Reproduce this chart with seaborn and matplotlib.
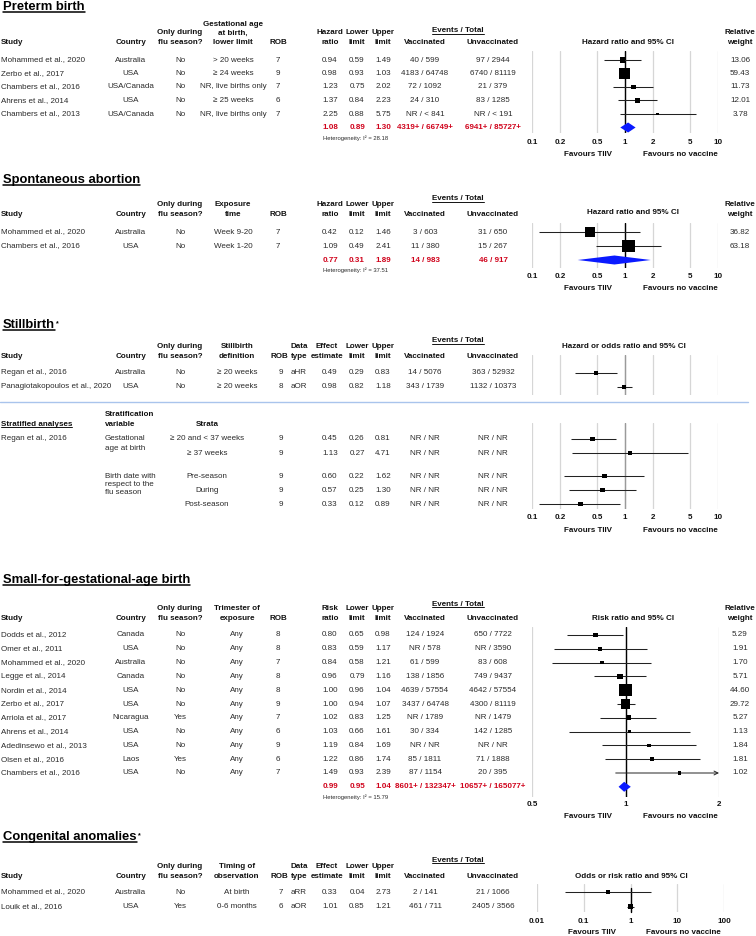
import matplotlib
matplotlib.use("Agg")
import matplotlib.pyplot as plt
from matplotlib.lines import Line2D
from matplotlib.ticker import NullLocator, NullFormatter
import seaborn as sns
import pandas as pd

sns.set_style("white")
plt.rcParams['font.family'] = ['Liberation Sans', 'DejaVu Sans']

# ------------------------------------------------------------------ data
# Preterm birth
pt_study = ["Mohammed et al., 2020", "Zerbo et al., 2017", "Chambers et al., 2016",
            "Ahrens et al., 2014", "Chambers et al., 2013"]
pt_country = ["Australia", "USA", "USA/Canada", "USA", "USA/Canada"]
pt_flu = ["No", "No", "No", "No", "No"]
pt_ga = ["> 20 weeks", "≥ 24 weeks", "NR, live births only", "≥ 25 weeks", "NR, live births only"]
pt_rob = [7, 9, 7, 6, 7]
pt_est = [0.94, 0.98, 1.23, 1.37, 2.25]
pt_lo = [0.59, 0.93, 0.75, 0.84, 0.88]
pt_hi = [1.49, 1.03, 2.02, 2.23, 5.75]
pt_vac = ["40 / 599", "4183 / 64748", "72 / 1092", "24 / 310", "NR / < 841"]
pt_unv = ["97 / 2944", "6740 / 81119", "21 / 379", "83 / 1285", "NR / < 191"]
pt_w = [13.06, 59.43, 11.73, 12.01, 3.78]
pt_sum = [1.08, 0.89, 1.30]
pt_sum_vac, pt_sum_unv, pt_i2 = "4319+ / 66749+", "6941+ / 85727+", 28.18

# Spontaneous abortion
sa_study = ["Mohammed et al., 2020", "Chambers et al., 2016"]
sa_country = ["Australia", "USA"]
sa_flu = ["No", "No"]
sa_exp = ["Week 9-20", "Week 1-20"]
sa_rob = [7, 7]
sa_est = [0.42, 1.09]
sa_lo = [0.12, 0.49]
sa_hi = [1.46, 2.41]
sa_vac = ["3 / 603", "11 / 380"]
sa_unv = ["31 / 650", "15 / 267"]
sa_w = [36.82, 63.18]
sa_sum = [0.77, 0.31, 1.89]
sa_sum_vac, sa_sum_unv, sa_i2 = "14 / 983", "46 / 917", 37.51

# Stillbirth
sb_study = ["Regan et al., 2016", "Panagiotakopoulos et al., 2020"]
sb_country = ["Australia", "USA"]
sb_flu = ["No", "No"]
sb_def = ["≥ 20 weeks", "≥ 20 weeks"]
sb_rob = [9, 8]
sb_type = ["aHR", "aOR"]
sb_est = [0.49, 0.98]
sb_lo = [0.29, 0.82]
sb_hi = [0.83, 1.18]
sb_vac = ["14 / 5076", "343 / 1739"]
sb_unv = ["363 / 52932", "1132 / 10373"]

# Stillbirth, stratified analyses (Regan et al., 2016)
st_var = [["Gestational", "age at birth"], ["Birth date with", "respect to the", "flu season"]]
st_strata = ["≥ 20 and < 37 weeks", "≥ 37 weeks", "Pre-season", "During", "Post-season"]
st_rob = [9, 9, 9, 9, 9]
st_est = [0.45, 1.13, 0.60, 0.57, 0.33]
st_lo = [0.26, 0.27, 0.22, 0.25, 0.12]
st_hi = [0.81, 4.71, 1.62, 1.30, 0.89]
st_vac = ["NR / NR"] * 5
st_unv = ["NR / NR"] * 5

# Small-for-gestational-age birth
sg_study = ["Dodds et al., 2012", "Omer et al., 2011", "Mohammed et al., 2020", "Legge et al., 2014",
            "Nordin et al., 2014", "Zerbo et al., 2017", "Arriola et al., 2017", "Ahrens et al., 2014",
            "Adedinsewo et al., 2013", "Olsen et al., 2016", "Chambers et al., 2016"]
sg_country = ["Canada", "USA", "Australia", "Canada", "USA", "USA", "Nicaragua", "USA", "USA", "Laos", "USA"]
sg_flu = ["No", "No", "No", "No", "No", "No", "Yes", "No", "No", "Yes", "No"]
sg_tri = ["Any"] * 11
sg_rob = [8, 8, 7, 8, 8, 9, 7, 6, 9, 6, 7]
sg_est = [0.80, 0.83, 0.84, 0.96, 1.00, 1.00, 1.02, 1.03, 1.19, 1.22, 1.49]
sg_lo = [0.65, 0.59, 0.58, 0.79, 0.96, 0.94, 0.83, 0.66, 0.84, 0.86, 0.93]
sg_hi = [0.98, 1.17, 1.21, 1.16, 1.04, 1.07, 1.25, 1.61, 1.69, 1.74, 2.39]
sg_vac = ["124 / 1924", "NR / 578", "61 / 599", "138 / 1856", "4639 / 57554", "3437 / 64748",
          "NR / 1789", "30 / 334", "NR / NR", "85 / 1811", "87 / 1154"]
sg_unv = ["650 / 7722", "NR / 3590", "83 / 608", "749 / 9437", "4642 / 57554", "4300 / 81119",
          "NR / 1479", "142 / 1285", "NR / NR", "71 / 1888", "20 / 395"]
sg_w = [5.29, 1.91, 1.70, 5.71, 44.60, 29.72, 5.27, 1.13, 1.84, 1.81, 1.02]
sg_sum = [0.99, 0.95, 1.04]
sg_sum_vac, sg_sum_unv, sg_i2 = "8601+ / 132347+", "10657+ / 165077+", 15.79

# Congenital anomalies
ca_study = ["Mohammed et al., 2020", "Louik et al., 2016"]
ca_country = ["Australia", "USA"]
ca_flu = ["No", "Yes"]
ca_time = ["At birth", "0-6 months"]
ca_rob = [7, 6]
ca_type = ["aRR", "aOR"]
ca_est = [0.33, 1.01]
ca_lo = [0.04, 0.85]
ca_hi = [2.73, 1.21]
ca_vac = ["2 / 141", "461 / 711"]
ca_unv = ["21 / 1066", "2405 / 3566"]

ticks_a = [0.1, 0.2, 0.5, 1, 2, 5, 10]
ticklab_a = ["0.1", "0.2", "0.5", "1", "2", "5", "10"]
ticks_sg = [0.5, 1, 2]
ticklab_sg = ["0.5", "1", "2"]
ticks_ca = [0.01, 0.1, 1, 10, 100]
ticklab_ca = ["0.01", "0.1", "1", "10", "100"]

# ------------------------------------------------------------------ figure
W, H = 756, 936
fig = plt.figure(figsize=(W / 100, H / 100), dpi=100)

FS = 5.8
TXT = '#2a2a2a'
HDR = '#111111'
RED = '#d0021b'
BLUE = '#0a1aff'
GRID = '#d6d6d6'

underlined = []
supers = []


def T(x, y, s, ha='center', size=FS, bold=False, color=None, ul=False, ulw=0.7):
    if color is None:
        color = HDR if bold else TXT
    t = fig.text(x / W, 1 - y / H, s, ha=ha, va='center', fontsize=size,
                 fontweight='bold' if bold else 'normal', color=color)
    if ul:
        underlined.append((t, ulw))
    return t


def title(y, s, star=False):
    t = T(3, y, s, ha='left', size=9.4, bold=True, color='#000000', ul=True, ulw=1.1)
    if star:
        supers.append(t)


def fmt(v):
    return f"{v:.2f}"


def forest(left, right, top, bottom, row0, dy, rows, est, lo, hi, xlim, ticks=None, ticklab=None,
           weights=None, sizes=(10, 10), size_norm=None, summary=None, ref_color='black',
           ref_span=None, tick_y=None, fav_y=None, fav_x=(588, 680), diamond_h=5):
    ax = fig.add_axes([left / W, 1 - bottom / H, (right - left) / W, (bottom - top) / H])
    ax.set_xscale('log')
    df = pd.DataFrame({"est": est, "row": rows,
                       "w": weights if weights is not None else [1.0] * len(est)})
    # confidence intervals
    for r, l, h in zip(rows, lo, hi):
        if h > xlim[1]:
            ax.annotate("", xy=(xlim[1], r), xytext=(l, r), xycoords='data',
                        arrowprops=dict(arrowstyle='->', color='#222222', lw=0.7,
                                        shrinkA=0, shrinkB=0, mutation_scale=7), zorder=3)
        else:
            ax.plot([l, h], [r, r], color='#222222', lw=0.75, zorder=3, solid_capstyle='butt')
    sns.scatterplot(data=df, x="est", y="row", size="w", sizes=sizes,
                    size_norm=size_norm if size_norm else (0.5, 1.5),
                    marker='s', color='black', linewidth=0, legend=False, ax=ax, zorder=4)
    if summary is not None:
        srow, (e, l, h) = summary
        hh = diamond_h / dy
        ax.fill([l, e, h, e], [srow, srow - hh, srow, srow + hh], color=BLUE, lw=0, zorder=5)
    ax.set_xlim(*xlim)
    ax.set_ylim((bottom - row0) / dy, (top - row0) / dy)
    ax.set_xlabel("")
    ax.set_ylabel("")
    ax.set_yticks([])
    ax.xaxis.set_minor_locator(NullLocator())
    ax.xaxis.set_minor_formatter(NullFormatter())
    ax.set_xticks(ticks)
    for s in ax.spines.values():
        s.set_visible(False)
    ax.grid(axis='x', which='major', color=GRID, lw=0.9, zorder=0)
    ax.set_axisbelow(True)
    if ref_span is None:
        ax.axvline(1, color=ref_color, lw=1.0, zorder=2)
    else:
        yb = (ref_span[1] - row0) / dy
        yt = (ref_span[0] - row0) / dy
        ax.plot([1, 1], [yt, yb], color=ref_color, lw=1.0, zorder=2, clip_on=False)
    if tick_y is not None:
        ax.set_xticklabels(ticklab, fontweight='bold', fontsize=FS, color=HDR)
        ax.tick_params(axis='x', length=0, pad=(tick_y - bottom - 3.6) * 0.72)
    else:
        ax.set_xticklabels([])
        ax.tick_params(axis='x', length=0)
    ax.patch.set_alpha(0)
    if fav_y is not None:
        T(fav_x[0], fav_y, "Favours TIIV", bold=True)
        T(fav_x[1], fav_y, "Favours no vaccine", bold=True)
    return ax


# column positions (pixels)
XS, XC, XF, XV, XR = 1, 131, 180, 233, 278
XE, XL, XU, XVA, XUN, XW = 330, 357, 383, 425, 493, 740
XET = 458
XR2, XD, XE2 = 279, 299, 327

# ======================= Preterm birth
title(7, "Preterm birth")
h1, h2 = 33, 43
T(XS, h2, "Study", ha='left', bold=True)
T(XC, h2, "Country", bold=True)
T(XF, h1, "Only during", bold=True); T(XF, h2, "flu season?", bold=True)
T(XV, 24, "Gestational age", bold=True); T(XV, h1, "at birth,", bold=True); T(XV, h2, "lower limit", bold=True)
T(XR, h2, "ROB", bold=True)
T(XE, h1, "Hazard", bold=True); T(XE, h2, "ratio", bold=True)
T(XL, h1, "Lower", bold=True); T(XL, h2, "limit", bold=True)
T(XU, h1, "Upper", bold=True); T(XU, h2, "limit", bold=True)
T(XET, 31, "Events / Total", bold=True, ul=True)
T(XVA, h2, "Vaccinated", bold=True); T(XUN, h2, "Unvaccinated", bold=True)
T(628, h2, "Hazard ratio and 95% CI", bold=True)
T(XW, h1, "Relative", bold=True); T(XW, h2, "weight", bold=True)
y0, dy = 60, 13.5
for i in range(len(pt_study)):
    y = y0 + i * dy
    T(XS, y, pt_study[i], ha='left'); T(XC, y, pt_country[i]); T(XF, y, pt_flu[i])
    T(XV, y, pt_ga[i]); T(XR, y, str(pt_rob[i]))
    T(XE, y, fmt(pt_est[i])); T(XL, y, fmt(pt_lo[i])); T(XU, y, fmt(pt_hi[i]))
    T(XVA, y, pt_vac[i]); T(XUN, y, pt_unv[i]); T(XW, y, fmt(pt_w[i]))
ys = y0 + len(pt_study) * dy
T(XE, ys, fmt(pt_sum[0]), bold=True, color=RED); T(XL, ys, fmt(pt_sum[1]), bold=True, color=RED)
T(XU, ys, fmt(pt_sum[2]), bold=True, color=RED)
T(XVA, ys, pt_sum_vac, bold=True, color=RED); T(XUN, ys, pt_sum_unv, bold=True, color=RED)
T(323, 138, f"Heterogeneity: I² = {pt_i2:.2f}", ha='left', size=4.2)
forest(532, 718, 51, 133, y0, dy, list(range(len(pt_est))), pt_est, pt_lo, pt_hi, (0.1, 10),
       ticks_a, ticklab_a, weights=pt_w, sizes=(3.8, 59.4), size_norm=(3.78, 59.43),
       summary=(len(pt_est), pt_sum), tick_y=143, fav_y=154)

# ======================= Spontaneous abortion
title(180, "Spontaneous abortion")
h1, h2 = 205, 215
T(XS, h2, "Study", ha='left', bold=True)
T(XC, h2, "Country", bold=True)
T(XF, h1, "Only during", bold=True); T(XF, h2, "flu season?", bold=True)
T(XV, h1, "Exposure", bold=True); T(XV, h2, "time", bold=True)
T(XR, h2, "ROB", bold=True)
T(XE, h1, "Hazard", bold=True); T(XE, h2, "ratio", bold=True)
T(XL, h1, "Lower", bold=True); T(XL, h2, "limit", bold=True)
T(XU, h1, "Upper", bold=True); T(XU, h2, "limit", bold=True)
T(XET, 199, "Events / Total", bold=True, ul=True)
T(XVA, h2, "Vaccinated", bold=True); T(XUN, h2, "Unvaccinated", bold=True)
T(633, 212, "Hazard ratio and 95% CI", bold=True)
T(XW, h1, "Relative", bold=True); T(XW, h2, "weight", bold=True)
y0, dy = 232, 14
for i in range(len(sa_study)):
    y = y0 + i * dy
    T(XS, y, sa_study[i], ha='left'); T(XC, y, sa_country[i]); T(XF, y, sa_flu[i])
    T(XV, y, sa_exp[i]); T(XR, y, str(sa_rob[i]))
    T(XE, y, fmt(sa_est[i])); T(XL, y, fmt(sa_lo[i])); T(XU, y, fmt(sa_hi[i]))
    T(XVA, y, sa_vac[i]); T(XUN, y, sa_unv[i]); T(XW, y, fmt(sa_w[i]))
ys = y0 + len(sa_study) * dy
T(XE, ys, fmt(sa_sum[0]), bold=True, color=RED); T(XL, ys, fmt(sa_sum[1]), bold=True, color=RED)
T(XU, ys, fmt(sa_sum[2]), bold=True, color=RED)
T(XVA, ys, sa_sum_vac, bold=True, color=RED); T(XUN, ys, sa_sum_unv, bold=True, color=RED)
T(323, 270, f"Heterogeneity: I² = {sa_i2:.2f}", ha='left', size=4.2)
forest(532, 718, 223, 268, y0, dy, list(range(len(sa_est))), sa_est, sa_lo, sa_hi, (0.1, 10),
       ticks_a, ticklab_a, weights=sa_w, sizes=(52, 84), size_norm=(36.82, 63.18),
       summary=(len(sa_est), sa_sum), tick_y=277, fav_y=288, diamond_h=4.5)

# ======================= Stillbirth
title(325, "Stillbirth", star=True)
h1, h2 = 347, 357
T(XS, h2, "Study", ha='left', bold=True)
T(XC, h2, "Country", bold=True)
T(XF, h1, "Only during", bold=True); T(XF, h2, "flu season?", bold=True)
T(237, h1, "Stillbirth", bold=True); T(237, h2, "definition", bold=True)
T(XR2, h2, "ROB", bold=True)
T(XD, h1, "Data", bold=True); T(XD, h2, "type", bold=True)
T(XE2, h1, "Effect", bold=True); T(XE2, h2, "estimate", bold=True)
T(XL, h1, "Lower", bold=True); T(XL, h2, "limit", bold=True)
T(XU, h1, "Upper", bold=True); T(XU, h2, "limit", bold=True)
T(XET, 341, "Events / Total", bold=True, ul=True)
T(XVA, h2, "Vaccinated", bold=True); T(XUN, h2, "Unvaccinated", bold=True)
T(624, h1, "Hazard or odds ratio and 95% CI", bold=True)
y0, dy = 373, 14
for i in range(len(sb_study)):
    y = y0 + i * dy
    T(XS, y, sb_study[i], ha='left'); T(XC, y, sb_country[i]); T(XF, y, sb_flu[i])
    T(237, y, sb_def[i]); T(XR2 + 2, y, str(sb_rob[i])); T(XD, y, sb_type[i])
    T(XE, y, fmt(sb_est[i])); T(XL, y, fmt(sb_lo[i])); T(XU, y, fmt(sb_hi[i]))
    T(XVA, y, sb_vac[i]); T(XUN, y, sb_unv[i])
forest(532, 718, 355, 395, y0, dy, list(range(len(sb_est))), sb_est, sb_lo, sb_hi, (0.1, 10),
       ticks_a, ticklab_a, sizes=(11, 11), ref_color='#9a9a9a')
fig.add_artist(Line2D([0, 748 / W], [1 - 402 / H, 1 - 402 / H], transform=fig.transFigure,
                      color='#a9c4ec', lw=1.0))

# stratified analyses
T(XS, 424, "Stratified analyses", ha='left', bold=True, ul=True)
T(105, 415, "Stratification", ha='left', bold=True); T(105, 424, "variable", ha='left', bold=True)
T(207, 424, "Strata", bold=True)
T(XS, 439, "Regan et al., 2016", ha='left')
for j, line in enumerate(st_var[0]):
    T(105, 439 + j * 9.7, line, ha='left')
for j, line in enumerate(st_var[1]):
    T(105, 476 + j * 8, line, ha='left')
y0, dy = 439, 14
st_slot = [0, 1, 2.65, 3.65, 4.65]
for i in range(len(st_strata)):
    y = y0 + st_slot[i] * dy
    T(207, y, st_strata[i]); T(XR2 + 2, y, str(st_rob[i]))
    T(XE, y, fmt(st_est[i])); T(XL, y, fmt(st_lo[i])); T(XU, y, fmt(st_hi[i]))
    T(XVA, y, st_vac[i]); T(XUN, y, st_unv[i])
forest(532, 718, 423, 509, y0, dy, st_slot, st_est, st_lo, st_hi, (0.1, 10),
       ticks_a, ticklab_a, sizes=(11, 11), ref_color='#9a9a9a', tick_y=518, fav_y=531)

# ======================= Small-for-gestational-age birth
title(580, "Small-for-gestational-age birth")
h1, h2 = 609, 619
T(XS, h2, "Study", ha='left', bold=True)
T(XC, h2, "Country", bold=True)
T(XF, h1, "Only during", bold=True); T(XF, h2, "flu season?", bold=True)
T(237, h1, "Trimester of", bold=True); T(237, h2, "exposure", bold=True)
T(XR, h2, "ROB", bold=True)
T(XE, h1, "Risk", bold=True); T(XE, h2, "ratio", bold=True)
T(XL, h1, "Lower", bold=True); T(XL, h2, "limit", bold=True)
T(XU, h1, "Upper", bold=True); T(XU, h2, "limit", bold=True)
T(XET, 604, "Events / Total", bold=True, ul=True)
T(XVA, h2, "Vaccinated", bold=True); T(XUN, h2, "Unvaccinated", bold=True)
T(633, h2, "Risk ratio and 95% CI", bold=True)
T(XW, h1, "Relative", bold=True); T(XW, h2, "weight", bold=True)
y0, dy = 635, 13.8
for i in range(len(sg_study)):
    y = y0 + i * dy
    T(XS, y, sg_study[i], ha='left'); T(XC, y, sg_country[i]); T(XF, y, sg_flu[i])
    T(237, y, sg_tri[i]); T(XR, y, str(sg_rob[i]))
    T(XE, y, fmt(sg_est[i])); T(XL, y, fmt(sg_lo[i])); T(XU, y, fmt(sg_hi[i]))
    T(XVA, y, sg_vac[i]); T(XUN, y, sg_unv[i]); T(XW, y, fmt(sg_w[i]))
ys = y0 + len(sg_study) * dy
T(XE, ys, fmt(sg_sum[0]), bold=True, color=RED); T(XL, ys, fmt(sg_sum[1]), bold=True, color=RED)
T(XU, ys, fmt(sg_sum[2]), bold=True, color=RED)
T(XVA, ys, sg_sum_vac, bold=True, color=RED); T(XUN, ys, sg_sum_unv, bold=True, color=RED)
T(323, 797, f"Heterogeneity: I² = {sg_i2:.2f}", ha='left', size=4.2)
forest(532, 719, 627, 797, y0, dy, list(range(len(sg_est))), sg_est, sg_lo, sg_hi, (0.5, 2),
       ticks_sg, ticklab_sg, weights=sg_w, sizes=(6, 75), size_norm=(1.02, 44.6),
       summary=(len(sg_est), sg_sum), tick_y=805, fav_y=817)

# ======================= Congenital anomalies
title(837, "Congenital anomalies", star=True)
h1, h2 = 867, 876
T(XS, h2, "Study", ha='left', bold=True)
T(XC, h2, "Country", bold=True)
T(XF, h1, "Only during", bold=True); T(XF, h2, "flu season?", bold=True)
T(237, h1, "Timing of", bold=True); T(237, h2, "observation", bold=True)
T(XR2, h2, "ROB", bold=True)
T(XD, h1, "Data", bold=True); T(XD, h2, "type", bold=True)
T(XE2, h1, "Effect", bold=True); T(XE2, h2, "estimate", bold=True)
T(XL, h1, "Lower", bold=True); T(XL, h2, "limit", bold=True)
T(XU, h1, "Upper", bold=True); T(XU, h2, "limit", bold=True)
T(XET, 860, "Events / Total", bold=True, ul=True)
T(XVA, h2, "Vaccinated", bold=True); T(XUN, h2, "Unvaccinated", bold=True)
T(631, h2, "Odds or risk ratio and 95% CI", bold=True)
y0, dy = 892, 14.5
for i in range(len(ca_study)):
    y = y0 + i * dy
    T(XS, y, ca_study[i], ha='left'); T(XC, y, ca_country[i]); T(XF, y, ca_flu[i])
    T(237, y, ca_time[i]); T(XR2 + 2, y, str(ca_rob[i])); T(XD, y, ca_type[i])
    T(XE, y, fmt(ca_est[i])); T(XL, y, fmt(ca_lo[i])); T(XU, y, fmt(ca_hi[i]))
    T(XVA, y, ca_vac[i]); T(XUN, y, ca_unv[i])
forest(537, 724, 884, 912, y0, dy, list(range(len(ca_est))), ca_est, ca_lo, ca_hi, (0.01, 100),
       ticks_ca, ticklab_ca, sizes=(11, 11), ref_span=(888, 912), tick_y=922, fav_y=933,
       fav_x=(592, 683))

# ------------------------------------------------------------------ underlines & asterisks
fig.canvas.draw()
rend = fig.canvas.get_renderer()
for t, lw in underlined:
    bb = t.get_window_extent(rend)
    yy = bb.y0 + 0.6
    fig.add_artist(Line2D([bb.x0 / W, bb.x1 / W], [yy / H, yy / H], transform=fig.transFigure,
                          color=t.get_color(), lw=lw))
for t in supers:
    bb = t.get_window_extent(rend)
    fig.text((bb.x1 + 1) / W, (bb.y1 - 1) / H, "*", ha='left', va='top', fontsize=5,
             fontweight='bold', color='#000000')

fig.savefig("out.png", dpi=100, facecolor='white')
